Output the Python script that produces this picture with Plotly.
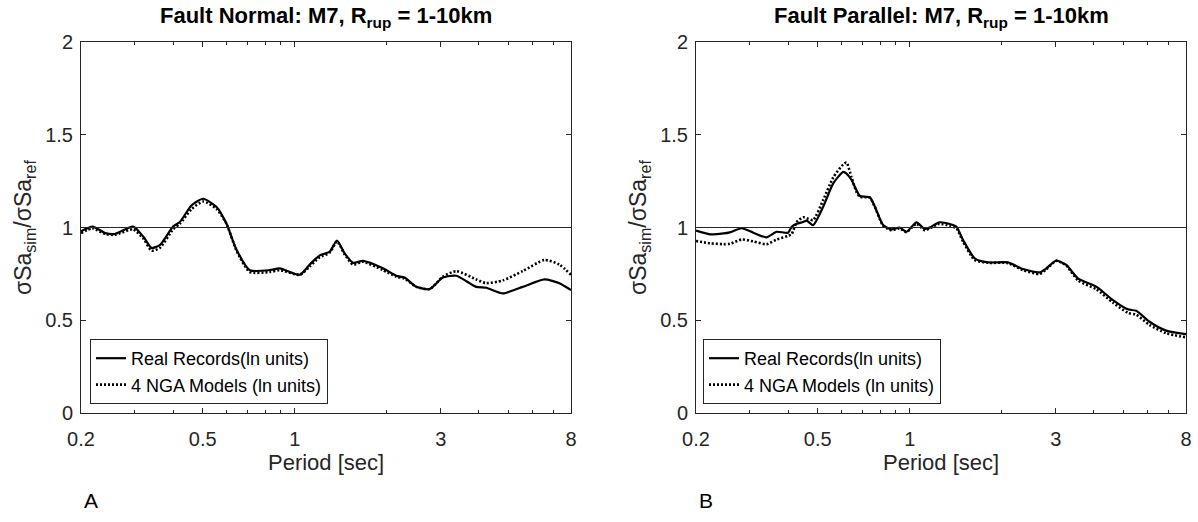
import math
import plotly.graph_objects as go

# ---------------- data ----------------
period_fn = [0.200, 0.218, 0.240, 0.258, 0.296, 0.320, 0.340, 0.362, 0.400, 0.421,
             0.460, 0.502, 0.555, 0.598, 0.645, 0.713, 0.828, 0.893, 1.038, 1.119,
             1.177, 1.207, 1.301, 1.374, 1.456, 1.550, 1.671, 1.942, 2.148, 2.286,
             2.497, 2.760, 3.050, 3.373, 3.920, 4.227, 4.790, 5.566, 6.554, 7.330, 8.000]
real_fn = [0.980, 1.005, 0.970, 0.965, 1.005, 0.950, 0.890, 0.905, 1.005, 1.030,
           1.120, 1.155, 1.110, 1.020, 0.880, 0.770, 0.770, 0.780, 0.745, 0.800,
           0.835, 0.850, 0.870, 0.930, 0.860, 0.810, 0.820, 0.780, 0.740, 0.730,
           0.680, 0.668, 0.730, 0.740, 0.680, 0.675, 0.645, 0.680, 0.720, 0.700, 0.663]
nga_fn = [0.970, 0.995, 0.965, 0.960, 0.990, 0.940, 0.875, 0.890, 0.990, 1.020,
          1.100, 1.140, 1.100, 1.020, 0.875, 0.760, 0.760, 0.770, 0.745, 0.790,
          0.825, 0.840, 0.865, 0.925, 0.855, 0.800, 0.815, 0.770, 0.735, 0.725,
          0.680, 0.668, 0.735, 0.765, 0.720, 0.700, 0.715, 0.765, 0.825, 0.800, 0.745]

period_fp = [0.200, 0.222, 0.246, 0.258, 0.282, 0.308, 0.340, 0.367, 0.400, 0.411,
             0.427, 0.448, 0.460, 0.483, 0.521, 0.562, 0.606, 0.621, 0.645, 0.670,
             0.687, 0.740, 0.769, 0.818, 0.871, 0.927, 0.975, 1.052, 1.119, 1.162,
             1.250, 1.351, 1.421, 1.493, 1.630, 1.802, 2.094, 2.344, 2.657, 2.796,
             3.013, 3.248, 3.546, 4.072, 4.614, 5.164, 5.500, 6.078, 6.890, 8.000]
real_fp = [0.983, 0.963, 0.968, 0.974, 0.996, 0.972, 0.947, 0.977, 0.972, 1.004,
           1.020, 1.030, 1.037, 1.013, 1.112, 1.238, 1.300, 1.290, 1.256, 1.200,
           1.170, 1.163, 1.112, 1.013, 0.990, 1.000, 0.977, 1.028, 0.992, 1.000,
           1.028, 1.019, 1.004, 0.933, 0.834, 0.812, 0.812, 0.776, 0.758, 0.780,
           0.821, 0.798, 0.726, 0.681, 0.609, 0.559, 0.551, 0.492, 0.444, 0.425]
nga_fp = [0.927, 0.915, 0.910, 0.912, 0.935, 0.925, 0.910, 0.935, 0.955, 0.965,
          1.030, 1.055, 1.050, 1.040, 1.148, 1.270, 1.340, 1.350, 1.270, 1.190,
          1.165, 1.160, 1.110, 1.010, 0.985, 0.995, 0.975, 1.020, 0.985, 0.995,
          1.020, 1.010, 0.995, 0.925, 0.825, 0.810, 0.808, 0.770, 0.750, 0.775,
          0.820, 0.795, 0.715, 0.667, 0.595, 0.540, 0.530, 0.475, 0.430, 0.408]

x_major = [0.2, 0.5, 1, 3, 8]
x_major_text = ["0.2", "0.5", "1", "3", "8"]
x_minor = [0.3, 0.4, 0.6, 0.7, 0.8, 0.9, 2, 4, 5, 6, 7]
y_ticks = [0, 0.5, 1, 1.5, 2]
y_tick_text = ["0", "0.5", "1", "1.5", "2"]

titles = ["Fault Normal: M7, R<sub>rup</sub> = 1-10km",
          "Fault Parallel: M7, R<sub>rup</sub> = 1-10km"]
legend_names = ["Real Records(ln units)", "4 NGA Models (ln units)"]
panel_letters = ["A", "B"]

# ---------------- figure ----------------
W, H = 1198, 522
FONT = "Liberation Sans, Arial, Helvetica, sans-serif"
AX_COL = "#262626"

def px_x(p):
    return p / W

def px_y(p):
    return 1 - p / H

fig = go.Figure()

panels = [
    dict(xa="x", ya="y", per=period_fn, real=real_fn, nga=nga_fn, leg="legend"),
    dict(xa="x2", ya="y2", per=period_fp, real=real_fp, nga=nga_fp, leg="legend2"),
]
for pn in panels:
    fig.add_trace(go.Scatter(x=pn["per"], y=pn["real"], mode="lines",
                             name=legend_names[0], xaxis=pn["xa"], yaxis=pn["ya"],
                             legend=pn["leg"],
                             line=dict(color="black", width=2.2, shape="spline", smoothing=0.6)))
    fig.add_trace(go.Scatter(x=pn["per"], y=pn["nga"], mode="lines",
                             name=legend_names[1], xaxis=pn["xa"], yaxis=pn["ya"],
                             legend=pn["leg"],
                             line=dict(color="black", width=2.6, dash="2px,2px",
                                       shape="spline", smoothing=0.6)))

plot_left = [81, 696]
plot_right = [571, 1186]
plot_top, plot_bottom = 42, 413

xaxis_common = dict(
    type="log", range=[math.log10(0.2), math.log10(8)], tickmode="array",
    tickvals=x_major, ticktext=x_major_text, ticks="inside", ticklen=5,
    tickwidth=1, tickcolor=AX_COL, showline=True, linecolor=AX_COL, linewidth=1,
    mirror="ticks", showgrid=False, zeroline=False, automargin=False,
    ticklabelstandoff=8,
    tickfont=dict(family=FONT, size=20, color=AX_COL),
    minor=dict(tickmode="array", tickvals=x_minor, ticks="inside", ticklen=3,
               tickwidth=1, tickcolor=AX_COL, showgrid=False),
)
yaxis_common = dict(
    range=[0, 2], tickmode="array", tickvals=y_ticks, ticktext=y_tick_text,
    ticks="inside", ticklen=5, tickwidth=1, tickcolor=AX_COL, showline=True,
    linecolor=AX_COL, linewidth=1, mirror="ticks", showgrid=False, zeroline=False,
    automargin=False, ticklabelstandoff=3,
    tickfont=dict(family=FONT, size=20, color=AX_COL),
)

fig.update_layout(
    xaxis=dict(xaxis_common, domain=[px_x(plot_left[0]), px_x(plot_right[0])], anchor="y"),
    yaxis=dict(yaxis_common, domain=[px_y(plot_bottom), px_y(plot_top)], anchor="x"),
    xaxis2=dict(xaxis_common, domain=[px_x(plot_left[1]), px_x(plot_right[1])], anchor="y2"),
    yaxis2=dict(yaxis_common, domain=[px_y(plot_bottom), px_y(plot_top)], anchor="x2"),
)

# reference line at 1
for xa, ya in [("x", "y"), ("x2", "y2")]:
    fig.add_shape(type="line", xref=f"{xa} domain", yref=ya, x0=0, x1=1, y0=1, y1=1,
                  line=dict(color=AX_COL, width=1))

annotations = []
for i in range(2):
    cx = (plot_left[i] + plot_right[i]) / 2
    annotations.append(dict(text="<b>" + titles[i] + "</b>", x=px_x(cx), y=px_y(17),
                            xref="paper", yref="paper", showarrow=False,
                            xanchor="center", yanchor="middle",
                            font=dict(family=FONT, size=22, color="black")))
    annotations.append(dict(text="Period [sec]", x=px_x(cx), y=px_y(462),
                            xref="paper", yref="paper", showarrow=False,
                            xanchor="center", yanchor="middle",
                            font=dict(family=FONT, size=22, color=AX_COL)))
    annotations.append(dict(text="σSa<sub>sim</sub>/σSa<sub>ref</sub>",
                            x=px_x(plot_left[i] - 57), y=px_y(228),
                            xref="paper", yref="paper", showarrow=False,
                            textangle=-90, xanchor="center", yanchor="middle",
                            font=dict(family=FONT, size=23, color=AX_COL)))
    annotations.append(dict(text=panel_letters[i], x=px_x(plot_left[i] + 10), y=px_y(500),
                            xref="paper", yref="paper", showarrow=False,
                            xanchor="center", yanchor="middle",
                            font=dict(family=FONT, size=21, color="black")))

legend_common = dict(
    xanchor="left", yanchor="bottom", bgcolor="white", bordercolor=AX_COL,
    borderwidth=1, font=dict(family=FONT, size=18, color="black"),
    tracegroupgap=0, itemwidth=30,
)
fig.update_layout(
    width=W, height=H, margin=dict(l=0, r=0, t=0, b=0, autoexpand=False),
    paper_bgcolor="white", plot_bgcolor="white",
    annotations=annotations,
    legend=dict(legend_common, x=px_x(90), y=px_y(404)),
    legend2=dict(legend_common, x=px_x(703), y=px_y(404)),
    showlegend=True,
)

fig.write_html("out.html")
